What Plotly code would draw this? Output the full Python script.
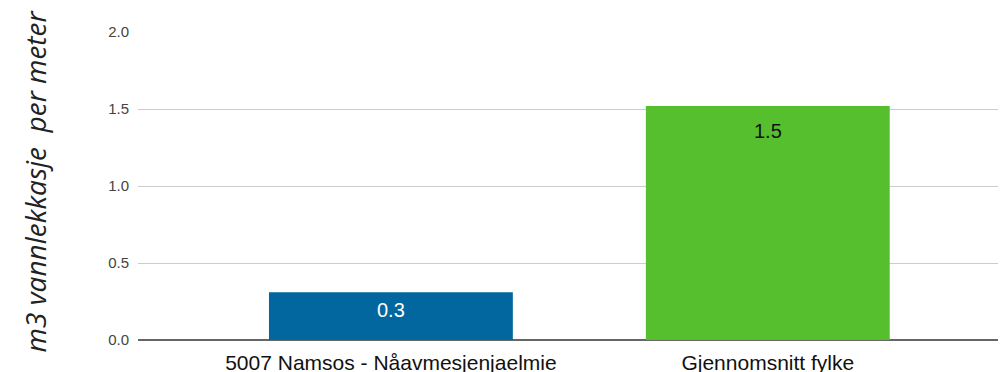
import plotly.graph_objects as go

categories = ["5007 Namsos - Nåavmesjenjaelmie", "Gjennomsnitt fylke"]
values = [0.31, 1.52]
labels = ["0.3", "1.5"]
y_ticks = [0, 0.5, 1.0, 1.5, 2.0]
y_tick_text = ["0.0", "0.5", "1.0", "1.5", "2.0"]
y_title = "m3 vannlekkasje  per meter"

# styles
bar_colors = ["#02679f", "#56bf2d"]
label_colors = ["white", "#111111"]
label_shifts = [-5, -12]

fig = go.Figure()
fig.add_trace(go.Bar(
    x=categories, y=values, marker_color=bar_colors,
    width=0.647, marker_line_width=0, hoverinfo="skip",
))
for c, v, t, col, sh in zip(categories, values, labels, label_colors, label_shifts):
    fig.add_annotation(x=c, y=v, text=t, showarrow=False, yanchor="top", yshift=sh,
                       font=dict(family="Liberation Sans, Arial", size=20, color=col))

fig.add_annotation(xref="paper", yref="paper", x=(27 - 130) / 868, y=0.515,
                   text=y_title, textangle=-90, showarrow=False,
                   xanchor="center", yanchor="middle",
                   font=dict(family="Open Sans", size=28, color="#222222", style="italic"))

fig.update_layout(
    width=1006, height=372,
    margin=dict(l=130, r=8, t=24, b=40, autoexpand=False),
    plot_bgcolor="white", paper_bgcolor="white",
    showlegend=False,
    xaxis=dict(range=[-0.671, 1.632], showgrid=False, showline=False, zeroline=False,
               automargin=False,
               tickfont=dict(family="Liberation Sans, Arial", size=21, color="#111111"),
               ticks="", ticklabelstandoff=8),
    yaxis=dict(range=[0, 2], tickvals=y_ticks, ticktext=y_tick_text,
               automargin=False,
               showgrid=True, gridcolor="#cccccc", gridwidth=1,
               zeroline=True, zerolinecolor="#666666", zerolinewidth=1.5,
               showline=False, ticks="", ticklabelstandoff=8,
               tickfont=dict(family="Liberation Sans, Arial", size=15, color="#444444")),
)

fig.write_html("out.html")
